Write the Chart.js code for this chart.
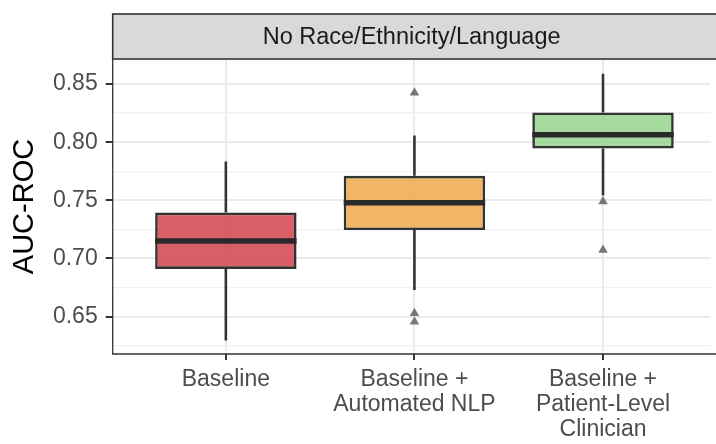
<!DOCTYPE html>
<html>
<head>
<meta charset="utf-8">
<script src="https://cdn.jsdelivr.net/npm/chart.js@4.4.1/dist/chart.umd.min.js"></script>
<style>
  html, body { margin: 0; padding: 0; background: #ffffff; }
  #wrap { width: 716px; height: 444px; }
</style>
</head>
<body>
<div id="wrap"><canvas id="auc" width="716" height="444"></canvas></div>
<script>
// Model variants compared (one box each)
const categories = [
  ['Baseline'],
  ['Baseline +', 'Automated NLP'],
  ['Baseline +', 'Patient-Level', 'Clinician']
];
const categoryPos = [1, 2, 3];

// Box summary statistics of AUC-ROC per model
const whiskerLow  = [0.6294, 0.6730, 0.7541];
const q1          = [0.6910, 0.7244, 0.7946];
const median      = [0.7151, 0.7479, 0.8064];
const q3          = [0.7395, 0.7711, 0.8256];
const whiskerHigh = [0.7834, 0.8058, 0.8589];

// Outlying runs: model index (1-based) and AUC-ROC
const outlierGroup = [2, 2, 2, 3, 3];
const outlierValue = [0.8425, 0.6530, 0.6457, 0.7490, 0.7074];

// Axis ticks: labelled values and the finer grid between them
const yLabelTicks = [0.65, 0.70, 0.75, 0.80, 0.85];
const yGridTicks  = [0.625, 0.65, 0.675, 0.70, 0.725, 0.75, 0.775, 0.80, 0.825, 0.85];

const boxFill = ['rgba(210,67,75,0.85)', 'rgba(237,169,74,0.85)', 'rgba(150,213,143,0.85)'];
const stripTitle = 'No Race/Ethnicity/Language';

const FONT = "'Liberation Sans', Arial, Helvetica, sans-serif";
const INK = '#333333';

const isLabelled = v => yLabelTicks.some(t => Math.abs(t - v) < 1e-9);

// Whiskers under the boxes, medians on top of them
const boxParts = {
  id: 'boxParts',
  beforeDatasetsDraw(chart) {
    const meta = chart.getDatasetMeta(1);
    const y = chart.scales.y;
    const ctx = chart.ctx;
    ctx.save();
    ctx.strokeStyle = INK;
    ctx.lineWidth = 2.6;
    meta.data.forEach((bar, i) => {
      ctx.beginPath();
      ctx.moveTo(bar.x, y.getPixelForValue(whiskerHigh[i]));
      ctx.lineTo(bar.x, y.getPixelForValue(q3[i]));
      ctx.moveTo(bar.x, y.getPixelForValue(q1[i]));
      ctx.lineTo(bar.x, y.getPixelForValue(whiskerLow[i]));
      ctx.stroke();
    });
    ctx.restore();
  },
  afterDatasetsDraw(chart) {
    const meta = chart.getDatasetMeta(1);
    const y = chart.scales.y;
    const ctx = chart.ctx;
    ctx.save();
    ctx.strokeStyle = '#2a2a2a';
    ctx.lineWidth = 5.5;
    meta.data.forEach((bar, i) => {
      const py = y.getPixelForValue(median[i]);
      ctx.beginPath();
      ctx.moveTo(bar.x - bar.width / 2, py);
      ctx.lineTo(bar.x + bar.width / 2, py);
      ctx.stroke();
    });
    ctx.restore();
  }
};

// Panel outline and the facet strip above it
const panelFrame = {
  id: 'panelFrame',
  afterDraw(chart) {
    const { ctx, chartArea: a } = chart;
    ctx.save();
    ctx.strokeStyle = INK;
    ctx.lineWidth = 1.3;
    ctx.beginPath();
    ctx.moveTo(a.left, a.top);
    ctx.lineTo(a.left, a.bottom);
    ctx.lineTo(chart.width + 2, a.bottom);
    ctx.stroke();

    const top = 14;
    ctx.fillStyle = '#D9D9D9';
    ctx.fillRect(a.left, top, chart.width + 2 - a.left, a.top - top);
    ctx.lineWidth = 1.6;
    ctx.strokeRect(a.left, top, chart.width + 4 - a.left, a.top - top);

    ctx.fillStyle = '#1A1A1A';
    ctx.font = '23.5px ' + FONT;
    ctx.textAlign = 'center';
    ctx.textBaseline = 'middle';
    ctx.fillText(stripTitle, (a.left + a.right) / 2, (top + a.top) / 2 + 1);
    ctx.restore();
  }
};

new Chart(document.getElementById('auc'), {
  type: 'bar',
  data: {
    datasets: [
      {
        type: 'scatter',
        data: outlierGroup.map((g, i) => ({ x: g, y: outlierValue[i] })),
        pointStyle: 'triangle',
        pointRadius: 5.5,
        pointHoverRadius: 5.5,
        backgroundColor: '#777777',
        borderWidth: 0
      },
      {
        type: 'bar',
        data: categoryPos.map((x, i) => ({ x: x, y: [q1[i], q3[i]] })),
        backgroundColor: boxFill,
        borderColor: INK,
        borderWidth: 2.6,
        borderSkipped: false,
        categoryPercentage: 1,
        barPercentage: 0.75
      }
    ]
  },
  options: {
    responsive: false,
    animation: false,
    devicePixelRatio: 1,
    layout: { padding: { top: 59, left: 0, right: 0, bottom: 0 } },
    plugins: {
      legend: { display: false },
      tooltip: { enabled: false }
    },
    scales: {
      x: {
        type: 'linear',
        offset: false,
        min: 0.4,
        max: 3.57,
        afterBuildTicks: s => { s.ticks = categoryPos.map(v => ({ value: v })); },
        afterFit: s => { s.height = 90; },
        border: { display: false },
        grid: {
          offset: false,
          color: '#EBEBEB',
          lineWidth: 2,
          tickColor: INK,
          tickLength: 6,
          tickWidth: 2
        },
        ticks: {
          padding: 7,
          color: '#4D4D4D',
          maxRotation: 0,
          autoSkip: false,
          font: { family: FONT, size: 23, lineHeight: 1.09 },
          callback: v => categories[categoryPos.indexOf(v)] || ''
        }
      },
      y: {
        type: 'linear',
        min: 0.6179,
        max: 0.8715,
        afterBuildTicks: s => { s.ticks = yGridTicks.map(v => ({ value: v })); },
        afterFit: s => { s.width = 112.7; },
        border: { display: false },
        grid: {
          color: c => isLabelled(c.tick.value) ? '#EBEBEB' : '#F0F0F0',
          lineWidth: c => isLabelled(c.tick.value) ? 2 : 1.2,
          tickColor: c => isLabelled(c.tick.value) ? INK : 'rgba(0,0,0,0)',
          tickLength: 7,
          tickWidth: 2
        },
        ticks: {
          padding: 8,
          color: '#4D4D4D',
          autoSkip: false,
          font: { family: FONT, size: 23 },
          callback: v => isLabelled(v) ? v.toFixed(2) : ''
        },
        title: {
          display: true,
          text: 'AUC-ROC',
          color: '#000000',
          padding: { top: 8, bottom: 0 },
          font: { family: FONT, size: 29, lineHeight: 1.2 }
        }
      }
    }
  },
  plugins: [boxParts, panelFrame]
});
</script>
</body>
</html>
